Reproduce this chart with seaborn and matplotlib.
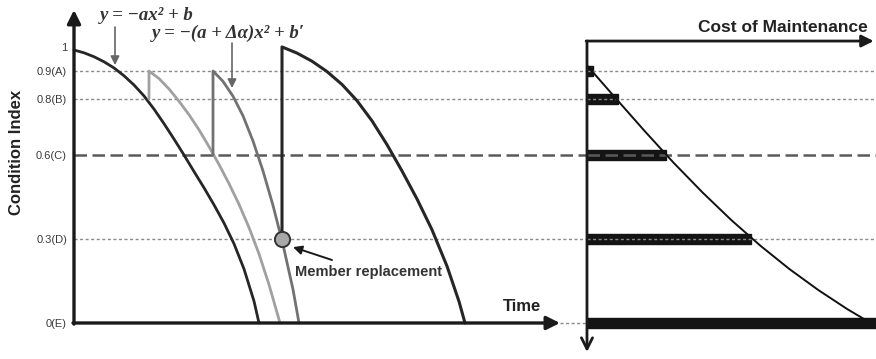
import matplotlib
matplotlib.use("Agg")
import matplotlib.pyplot as plt
import seaborn as sns

sns.set_theme(style="white")
plt.rcParams['font.family'] = ['Liberation Sans', 'DejaVu Sans']

# condition levels and their labels
levels = [0.985, 0.9, 0.8, 0.6, 0.3, 0.0]
level_labels = ['1', '0.9(A)', '0.8(B)', '0.6(C)', '0.3(D)', '0(E)']
ref_levels = [0.9, 0.8, 0.3]
major_level = 0.6

# deterioration curves (time, condition index)
curve1_t = [0, 1, 2, 3, 4, 5, 6, 7, 8, 9, 10, 11, 12, 13, 14, 15, 16, 17, 18, 18.5]
curve1_y = [0.975, 0.965, 0.951, 0.933, 0.911, 0.883, 0.850, 0.811, 0.764, 0.712,
            0.657, 0.600, 0.541, 0.483, 0.422, 0.357, 0.283, 0.193, 0.078, 0.0]
curve2_t = [7.5, 7.5, 8.5, 9.5, 10.5, 11.5, 12.5, 13.5, 14.5, 15.5, 16.5, 17.5, 18.5, 19.5, 20.6]
curve2_y = [0.8, 0.9, 0.873, 0.836, 0.792, 0.744, 0.690, 0.630, 0.566, 0.498,
            0.424, 0.341, 0.247, 0.137, 0.0]
curve3_t = [13.9, 13.9, 14.9, 15.9, 16.9, 17.9, 18.9, 19.9, 20.9, 21.9, 22.5]
curve3_y = [0.6, 0.9, 0.863, 0.81, 0.74, 0.65, 0.543, 0.42, 0.28, 0.12, 0.0]
curve4_t = [20.8, 20.8, 22.3, 23.8, 25.3, 26.8, 28.3, 29.8, 31.3, 32.8, 34.3, 35.8, 37.3, 38.5, 39.1]
curve4_y = [0.3, 0.986, 0.964, 0.935, 0.898, 0.852, 0.794, 0.722, 0.637, 0.543,
            0.443, 0.333, 0.203, 0.077, 0.0]
replace_t, replace_y = 20.8, 0.3

# maintenance cost per level
bar_levels = [0.9, 0.8, 0.6, 0.3, 0.0]
bar_costs = [2.1, 10.7, 27.3, 56.7, 100]
cost_c = [0, 10, 20, 30, 40, 50, 60, 70, 80, 90, 96.2]
cost_y = [0.92, 0.802, 0.685, 0.572, 0.466, 0.367, 0.276, 0.193, 0.118, 0.05, 0.012]

dark = '#262626'
ylim = (-0.1286, 1.1536)

fig = plt.figure(figsize=(8.76, 3.59), dpi=100)
ax = fig.add_axes([0, 0, 1, 1])
ax.set_xlim(-7.4, 80.2)
ax.set_ylim(*ylim)
ax.patch.set_alpha(0)
for s in ax.spines.values():
    s.set_visible(False)
ax.spines['left'].set_position(('data', 0))
ax.set_xticks([])
ax.set_yticks(levels)
ax.set_yticklabels(level_labels)
ax.tick_params(axis='y', length=0, pad=5, labelsize=8, labelcolor='#3a3a3a')

axr = fig.add_axes([0, 0, 1, 1])
axr.set_xlim(-203.1, 100)
axr.set_ylim(*ylim)
axr.axis('off')

# reference lines
dot = dict(color='#8a8a8a', lw=1.0, dashes=(2.2, 1.8))
dash = dict(color='#5a5a5a', lw=1.8, dashes=(5, 2.2))
for lv in ref_levels:
    ax.plot([0, 51.3], [lv, lv], zorder=1, **dot)
    axr.plot([0, 100], [lv, lv], zorder=4, **dot)
ax.plot([0, 51.3], [major_level] * 2, zorder=1, **dash)
axr.plot([0, 100], [major_level] * 2, zorder=4, **dash)
ax.plot([48.6, 51.3], [0, 0], zorder=1, **dot)

# curves
sns.lineplot(x=curve1_t, y=curve1_y, sort=False, estimator=None, color=dark, lw=2.0, ax=ax, zorder=3)
sns.lineplot(x=curve2_t, y=curve2_y, sort=False, estimator=None, color='#a0a0a0', lw=2.0, ax=ax, zorder=3)
sns.lineplot(x=curve3_t, y=curve3_y, sort=False, estimator=None, color='#727272', lw=2.0, ax=ax, zorder=3)
sns.lineplot(x=curve4_t, y=curve4_y, sort=False, estimator=None, color=dark, lw=2.2, ax=ax, zorder=3)
ax.scatter([replace_t], [replace_y], s=120, facecolor='#a8a8a8', edgecolor='#333333', lw=1.4, zorder=5)

# axes arrows, left panel
arr = dict(arrowstyle='-|>', color='#1a1a1a', lw=2.4, mutation_scale=20, shrinkA=0, shrinkB=0)
ax.annotate('', xy=(0, 1.118), xytext=(0, -0.004), arrowprops=arr, zorder=6)
ax.annotate('', xy=(48.6, 0), xytext=(-0.1, 0), arrowprops=arr, zorder=6)
ax.text(44.8, 0.06, 'Time', fontsize=12, fontweight='bold', color='#222222', ha='center', va='center')
ax.text(-5.7, 0.61, 'Condition Index', rotation=90, fontsize=12, fontweight='bold',
        color='#222222', ha='center', va='center')

# equations
eq = dict(family=['Liberation Serif', 'DejaVu Serif'], style='italic', fontweight='bold',
          fontsize=13.5, color='#333333', va='center', ha='left')
ax.text(2.6, 1.1, 'y = −ax² + b', **eq)
ax.text(7.8, 1.036, 'y = −(a + Δα)x² + b′', **eq)
garr = dict(arrowstyle='-|>', color='#666666', lw=1.2, mutation_scale=13, shrinkA=0, shrinkB=0)
ax.annotate('', xy=(4.1, 0.921), xytext=(4.1, 1.057), arrowprops=garr)
ax.annotate('', xy=(15.8, 0.839), xytext=(15.8, 1.0), arrowprops=garr)

# member replacement
ax.text(22.1, 0.182, 'Member replacement', fontsize=10.5, fontweight='bold', color='#333333',
        ha='left', va='center')
ax.annotate('', xy=(21.9, 0.271), xytext=(25.8, 0.225),
            arrowprops=dict(arrowstyle='-|>', color='#1a1a1a', lw=1.4, mutation_scale=13,
                            shrinkA=0, shrinkB=0))

# right panel: maintenance cost
axr.barh(bar_levels, bar_costs, height=0.034, left=0, color='#141414', edgecolor='#141414', zorder=3)
sns.lineplot(x=cost_c, y=cost_y, sort=False, estimator=None, color='#111111', lw=1.4, ax=axr, zorder=5)
axr.annotate('', xy=(99.2, 1.007), xytext=(-0.3, 1.007),
             arrowprops=dict(arrowstyle='-|>', color='#1a1a1a', lw=2.0, mutation_scale=18,
                             shrinkA=0, shrinkB=0), zorder=6)
axr.annotate('', xy=(0, -0.1036), xytext=(0, 1.007),
             arrowprops=dict(arrowstyle='->', color='#1a1a1a', lw=2.0, mutation_scale=20,
                             shrinkA=0, shrinkB=0), zorder=6)
axr.text(97.2, 1.057, 'Cost of Maintenance', fontsize=12.5, fontweight='bold', color='#222222',
         ha='right', va='center')

fig.savefig('out.png', dpi=100)
